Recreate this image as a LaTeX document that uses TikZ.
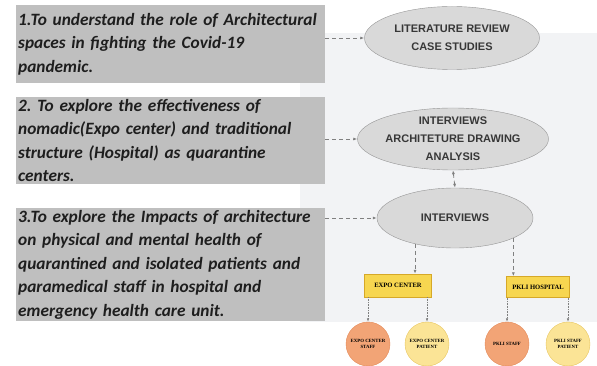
\documentclass[tikz,border=0pt]{standalone}
\usepackage{fontspec}
\setmainfont{Carlito}
\newfontfamily\ovalfont{Liberation Sans}
\newfontfamily\tagfont{Liberation Serif}
\usepackage{xcolor}
\definecolor{aimgray}{RGB}{191,191,191}
\definecolor{aimtext}{RGB}{30,30,30}
\definecolor{ovalfill}{RGB}{217,217,217}
\definecolor{ovaldraw}{RGB}{150,150,150}
\definecolor{ovaltext}{RGB}{55,55,55}
\definecolor{tagfill}{RGB}{247,214,80}
\definecolor{tagdraw}{RGB}{214,168,40}
\definecolor{staffcol}{RGB}{242,164,118}
\definecolor{staffdraw}{RGB}{228,138,88}
\definecolor{patcol}{RGB}{251,228,150}
\definecolor{patdraw}{RGB}{232,198,96}
\definecolor{panelgray}{RGB}{242,243,245}
\definecolor{linkgray}{RGB}{128,128,128}
\usepackage{tikz}
\usetikzlibrary{arrows.meta, positioning, shapes.geometric}

\tikzset{
  aimbox/.style={fill=aimgray, draw=none, anchor=north west, text width=305pt,
    inner xsep=2pt, inner ysep=2pt, align=left, text=aimtext,
    font=\fontsize{17.3}{23.5}\selectfont\bfseries\itshape\frenchspacing},
  methodoval/.style={ellipse, draw=ovaldraw, fill=ovalfill, text=ovaltext,
    align=center, inner sep=0pt, font=\ovalfont\bfseries\fontsize{11}{18}\selectfont},
  sitetag/.style={rectangle, draw=tagdraw, fill=tagfill, inner sep=0pt,
    font=\tagfont\bfseries\fontsize{6.6}{8}\selectfont},
  staffdot/.style={circle, draw=staffdraw, fill=staffcol, minimum size=44pt,
    inner sep=0pt, align=center, font=\tagfont\bfseries\fontsize{4.8}{6}\selectfont},
  patientdot/.style={circle, draw=patdraw, fill=patcol, minimum size=44pt,
    inner sep=0pt, align=center, font=\tagfont\bfseries\fontsize{4.8}{6}\selectfont},
  link/.style={-{Latex[length=4pt,width=3pt]}, linkgray, dashed, dash pattern=on 4pt off 3pt, line width=0.8pt},
  thinlink/.style={-{Latex[length=3.5pt,width=2.5pt]}, linkgray, densely dotted, line width=0.6pt}
}

\begin{document}
\begin{tikzpicture}[x=1pt,y=-1pt]
  \useasboundingbox (0,0) rectangle (597,366);
  % Faint backdrop
  \fill[panelgray] (300,33) rectangle (597,322);

  % --- Objectives ---
  \node[aimbox, minimum height=78pt] (aim1) at (16,5)
    {1.To understand the role of Architectural\\spaces in fighting the Covid-19\\pandemic.};
  \node[aimbox, minimum height=85pt] (aim2) at (16,97)
    {2. To explore the effectiveness of\\nomadic(Expo center) and traditional\\structure (Hospital) as quarantine\\centers.};
  \node[aimbox, minimum height=110pt] (aim3) at (16,208)
    {3.To explore the Impacts of architecture\\on physical and mental health of\\quarantined and isolated patients and\\paramedical staff in hospital and\\emergency health care unit.};

  % --- Methods ---
  \node[methodoval, minimum width=175pt, minimum height=63pt] (litrev) at (452,38)
    {LITERATURE REVIEW\\CASE STUDIES};
  \node[methodoval, minimum width=167pt, minimum height=62pt] (drawings) at (453,139)
    {INTERVIEWS\\ARCHITETURE DRAWING\\ANALYSIS};
  \node[methodoval, minimum width=156pt, minimum height=60pt] (interv) at (455,218)
    {INTERVIEWS};

  \draw[link] (aim1.east |- litrev.west) -- (litrev.west);
  \draw[link] (aim2.east |- drawings.west) -- (drawings.west);
  \draw[link] (aim3.east |- interv.west) -- (interv.west);
  \draw[link, {Latex[length=4pt,width=3pt]}-{Latex[length=4pt,width=3pt]}] (drawings.south) -- (interv.north);

  % --- Case study sites ---
  \node[sitetag, minimum width=67pt, minimum height=23pt] (expo) at (398,285.5) {EXPO CENTER};
  \node[sitetag, minimum width=63pt, minimum height=21pt] (pkli) at (538,287) {PKLI HOSPITAL};
  \draw[link] (interv.-147) -- (interv.-147 |- expo.north);
  \draw[link] (interv.-19) -- (interv.-19 |- pkli.north);

  % --- Respondents ---
  \node[staffdot] (expostaff) at (368,344) {EXPO CENTER\\STAFF};
  \node[patientdot] (expopat) at (427,344) {EXPO CENTER\\PATIENT};
  \node[staffdot] (pklistaff) at (507,344) {PKLI STAFF};
  \node[patientdot] (pklipat) at (568,344) {PKLI STAFF\\PATIENT};
  \foreach \dot/\site in {expostaff/expo, expopat/expo, pklistaff/pkli, pklipat/pkli}
    \draw[thinlink] (\dot.north |- \site.south) -- (\dot.north);
\end{tikzpicture}
\end{document}
